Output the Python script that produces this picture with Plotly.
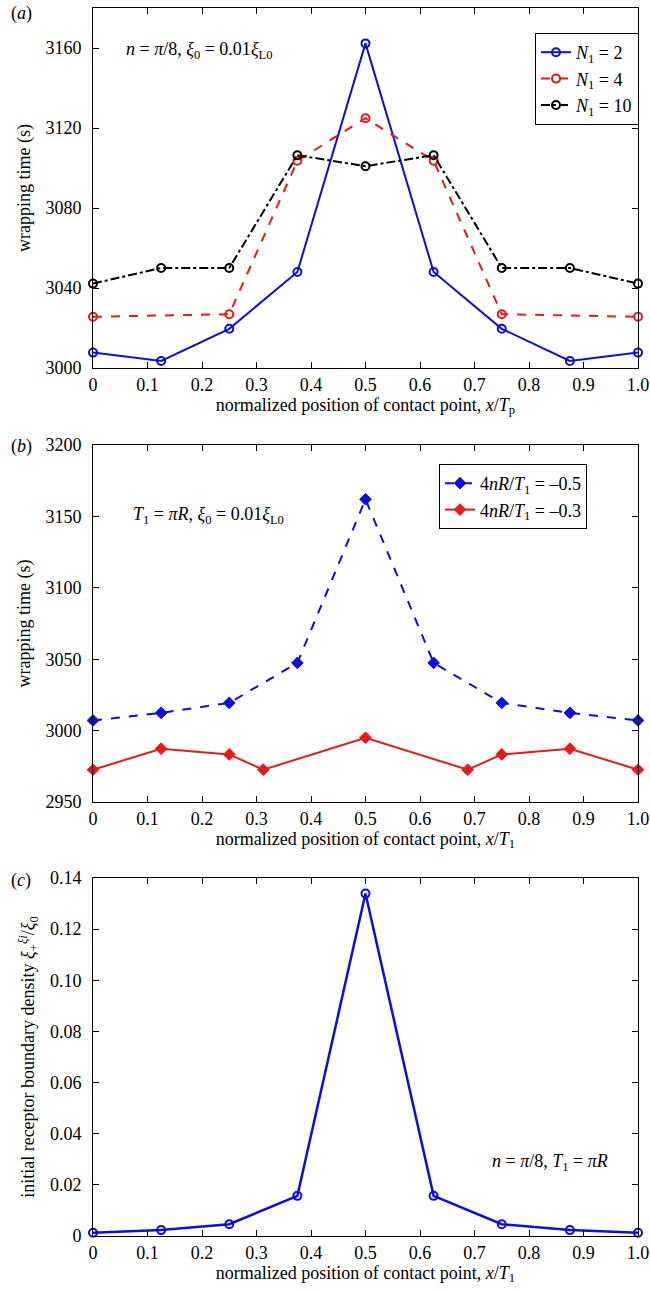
import plotly.graph_objects as go

# ---------------- data ----------------
x9 = [0, 0.125, 0.25, 0.375, 0.5, 0.625, 0.75, 0.875, 1.0]

# panel (a)
a_n2 = [3007.7, 3003.5, 3019.6, 3048.0, 3162.3, 3048.0, 3019.6, 3003.5, 3007.7]
a_x4 = [0, 0.25, 0.375, 0.5, 0.625, 0.75, 1.0]
a_n4 = [3025.6, 3026.9, 3103.6, 3124.9, 3103.6, 3026.9, 3025.6]
a_n10 = [3042.2, 3050.0, 3050.0, 3106.4, 3100.9, 3106.4, 3050.0, 3050.0, 3042.2]

# panel (b)
b_m05 = [3007.1, 3012.4, 3019.4, 3047.4, 3162.0, 3047.4, 3019.4, 3012.4, 3007.1]
b_x03 = [0, 0.125, 0.25, 0.3125, 0.5, 0.6875, 0.75, 0.875, 1.0]
b_m03 = [2972.6, 2987.3, 2983.3, 2972.6, 2995.0, 2972.6, 2983.3, 2987.3, 2972.6]

# panel (c)
c_rho = [0.0013, 0.0023, 0.0046, 0.0157, 0.1339, 0.0157, 0.0046, 0.0023, 0.0013]

x_ticks = [0, 0.1, 0.2, 0.3, 0.4, 0.5, 0.6, 0.7, 0.8, 0.9, 1.0]
x_ticktext = ["0", "0.1", "0.2", "0.3", "0.4", "0.5", "0.6", "0.7", "0.8", "0.9", "1.0"]
a_yticks = [3000, 3040, 3080, 3120, 3160]
b_yticks = [2950, 3000, 3050, 3100, 3150, 3200]
c_yticks = [0, 0.02, 0.04, 0.06, 0.08, 0.10, 0.12, 0.14]
c_yticktext = ["0", "0.02", "0.04", "0.06", "0.08", "0.10", "0.12", "0.14"]

BLUE = "rgb(12,12,228)"
RED = "rgb(236,24,24)"
BLACK = "black"
FONT = "Liberation Serif, Times New Roman, serif"

fig = go.Figure()

circ = lambda c: dict(symbol="circle-open", size=8, color=c, line=dict(width=2, color=c))
diam = lambda c: dict(symbol="diamond", size=9, color=c, line=dict(width=1, color=c))

fig.add_trace(go.Scatter(x=x9, y=a_n2, mode="lines+markers", name="<i>N</i><sub>1</sub> = 2",
                         line=dict(color=BLUE, width=2, dash="solid"), marker=circ(BLUE),
                         cliponaxis=False, xaxis="x", yaxis="y", legend="legend"))
fig.add_trace(go.Scatter(x=a_x4, y=a_n4, mode="lines+markers", name="<i>N</i><sub>1</sub> = 4",
                         line=dict(color=RED, width=2, dash="dash"), marker=circ(RED),
                         cliponaxis=False, xaxis="x", yaxis="y", legend="legend"))
fig.add_trace(go.Scatter(x=x9, y=a_n10, mode="lines+markers", name="<i>N</i><sub>1</sub> = 10",
                         line=dict(color=BLACK, width=2, dash="dashdot"), marker=circ(BLACK),
                         cliponaxis=False, xaxis="x", yaxis="y", legend="legend"))

fig.add_trace(go.Scatter(x=x9, y=b_m05, mode="lines+markers", name="4<i>nR</i>/<i>T</i><sub>1</sub> = –0.5",
                         line=dict(color=BLUE, width=2, dash="dash"), marker=diam(BLUE),
                         cliponaxis=False, xaxis="x2", yaxis="y2", legend="legend2"))
fig.add_trace(go.Scatter(x=b_x03, y=b_m03, mode="lines+markers", name="4<i>nR</i>/<i>T</i><sub>1</sub> = –0.3",
                         line=dict(color=RED, width=2, dash="solid"), marker=diam(RED),
                         cliponaxis=False, xaxis="x2", yaxis="y2", legend="legend2"))

fig.add_trace(go.Scatter(x=x9, y=c_rho, mode="lines+markers", showlegend=False,
                         line=dict(color=BLUE, width=2.5), marker=circ(BLUE),
                         cliponaxis=False, xaxis="x3", yaxis="y3"))

axis_common = dict(showline=True, linecolor="black", linewidth=1, mirror="ticks",
                   ticks="inside", ticklen=6, tickwidth=1, tickcolor="black",
                   showgrid=False, zeroline=False, automargin=False,
                   tickfont=dict(family=FONT, size=18, color="black"))

xt_a = "normalized position of contact point, <i>x</i>/<i>T</i><sub>p</sub>"
xt_b = "normalized position of contact point, <i>x</i>/<i>T</i><sub>1</sub>"

def xaxis(anchor, title):
    d = dict(axis_common)
    d.update(domain=[0, 1], anchor=anchor, range=[0, 1], tickvals=x_ticks, ticktext=x_ticktext,
             ticklabelstandoff=0,
             title=dict(text=title, font=dict(family=FONT, size=18, color="black"), standoff=0))
    return d

def yaxis(anchor, dom, rng, tv, tt, title):
    d = dict(axis_common)
    d.update(domain=dom, anchor=anchor, range=rng, tickvals=tv, ticktext=tt,
             ticklabelstandoff=7,
             title=dict(text=title, font=dict(family=FONT, size=18, color="black"), standoff=10))
    return d

H = 1228.0
def dom(top_px, bot_px):
    return [(1236 - bot_px) / H, (1236 - top_px) / H]

fig.update_layout(
    template="none",
    width=650, height=1291,
    margin=dict(l=93, r=12, t=8, b=55, autoexpand=False),
    paper_bgcolor="white", plot_bgcolor="white",
    font=dict(family=FONT, size=18, color="black"),
    xaxis=xaxis("y", xt_a),
    xaxis2=xaxis("y2", xt_b),
    xaxis3=xaxis("y3", xt_b),
    yaxis=yaxis("x", dom(8, 368), [3000, 3180], a_yticks, [str(v) for v in a_yticks], "wrapping time (s)"),
    yaxis2=yaxis("x2", dom(445, 802), [2950, 3200], b_yticks, [str(v) for v in b_yticks], "wrapping time (s)"),
    yaxis3=yaxis("x3", dom(878, 1236), [0, 0.14], c_yticks, c_yticktext,
                 "initial receptor boundary density <i>ξ</i><sub>+</sub><sup><i>ξi</i></sup>/<i>ξ</i><sub>0</sub>"),
    legend=dict(x=(535 - 93) / 545, y=(1236 - 33) / H, xanchor="left", yanchor="top",
                bordercolor="black", borderwidth=1, bgcolor="white",
                font=dict(family=FONT, size=18, color="black"), tracegroupgap=0, itemwidth=30),
    legend2=dict(x=(439 - 93) / 545, y=(1236 - 464) / H, xanchor="left", yanchor="top",
                 bordercolor="black", borderwidth=1, bgcolor="white",
                 font=dict(family=FONT, size=18, color="black"), tracegroupgap=0, itemwidth=30),
    showlegend=True,
)

ann_font = dict(family=FONT, size=18, color="black")
fig.add_annotation(text="<i>n</i> = <i>π</i>/8, <i>ξ</i><sub>0</sub> = 0.01<i>ξ</i><sub>L0</sub>",
                   xref="paper", yref="paper", x=(124 - 93) / 545, y=(1236 - 50) / H,
                   xanchor="left", yanchor="middle", showarrow=False, font=ann_font)
fig.add_annotation(text="<i>T</i><sub>1</sub> = <i>πR</i>, <i>ξ</i><sub>0</sub> = 0.01<i>ξ</i><sub>L0</sub>",
                   xref="paper", yref="paper", x=(131 - 93) / 545, y=(1236 - 515) / H,
                   xanchor="left", yanchor="middle", showarrow=False, font=ann_font)
fig.add_annotation(text="<i>n</i> = <i>π</i>/8, <i>T</i><sub>1</sub> = <i>πR</i>",
                   xref="paper", yref="paper", x=(490 - 93) / 545, y=(1236 - 1162) / H,
                   xanchor="left", yanchor="middle", showarrow=False, font=ann_font)

for lab, ypx in [("(<i>a</i>)", 13), ("(<i>b</i>)", 446), ("(<i>c</i>)", 880)]:
    fig.add_annotation(text=lab, xref="paper", yref="paper", x=(21 - 93) / 545, y=(1236 - ypx) / H,
                       xanchor="center", yanchor="middle", showarrow=False, font=ann_font)

fig.write_html("out.html",
               config={"displayModeBar": False},
               post_script="document.body.style.margin='0';document.body.style.padding='0';"
                           "document.documentElement.style.overflow='hidden';")
